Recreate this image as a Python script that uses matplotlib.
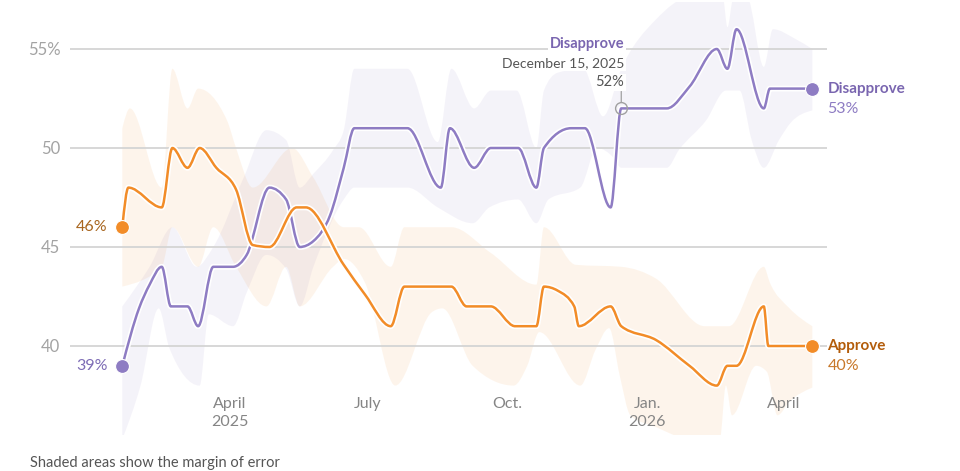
import numpy as np
import matplotlib
matplotlib.use("Agg")
import matplotlib.pyplot as plt
import matplotlib.dates as mdates
from matplotlib.path import Path
from matplotlib.patches import PathPatch
import matplotlib.patheffects as pe

plt.rcParams['font.family'] = ['Lato', 'DejaVu Sans']

# approval line
approve_dates = ["2025-01-20", "2025-01-24", "2025-02-15", "2025-02-22", "2025-03-04", "2025-03-12",
                 "2025-03-23", "2025-04-05", "2025-04-16", "2025-04-27", "2025-05-15", "2025-05-21",
                 "2025-06-15", "2025-06-29", "2025-07-16", "2025-07-25", "2025-08-25", "2025-09-04",
                 "2025-09-20", "2025-10-06", "2025-10-20", "2025-10-25", "2025-11-03", "2025-11-14",
                 "2025-11-17", "2025-12-08", "2025-12-15", "2026-01-07", "2026-01-29", "2026-02-16",
                 "2026-02-23", "2026-03-01", "2026-03-19", "2026-03-22", "2026-04-20"]
approve = [46, 48, 47, 50, 49, 50, 49, 47.9, 45.1, 45, 47, 47, 44.1, 42.6, 41, 43, 43, 42,
           42, 41, 41, 43, 42.8, 42, 41, 42, 41, 40.3, 39, 38, 39, 39, 42, 40, 40]

# disapproval line
disapprove_dates = ["2025-01-20", "2025-01-31", "2025-02-07", "2025-02-15", "2025-02-21", "2025-03-04",
                    "2025-03-11", "2025-03-21", "2025-04-03", "2025-04-12", "2025-04-27", "2025-05-08",
                    "2025-05-17", "2025-05-26", "2025-06-06", "2025-06-15", "2025-06-22", "2025-07-27",
                    "2025-08-18", "2025-08-24", "2025-09-09", "2025-09-20", "2025-10-08", "2025-10-20",
                    "2025-10-25", "2025-11-12", "2025-11-21", "2025-12-08", "2025-12-15", "2026-01-14",
                    "2026-01-29", "2026-02-16", "2026-02-23", "2026-03-01", "2026-03-19", "2026-03-23",
                    "2026-04-20"]
disapprove = [39, 41.9, 43.1, 44, 42, 42, 41, 44, 44, 44.6, 48, 47.4, 45, 45.3, 46.6, 49, 51, 51,
              48, 51, 49, 50, 50, 48, 50, 51, 51, 47, 52, 52, 53.1, 55, 54, 56, 52, 53, 53]

# margin of error, approve
appr_hi_dates = ["2025-01-20", "2025-01-25", "2025-02-15", "2025-02-22", "2025-03-04", "2025-03-11",
                 "2025-03-30", "2025-04-05", "2025-04-16", "2025-05-12", "2025-05-26", "2025-06-15",
                 "2025-06-25", "2025-07-16", "2025-07-25", "2025-08-25", "2025-09-20", "2025-10-20",
                 "2025-10-25", "2025-11-15", "2025-12-15", "2026-01-07", "2026-02-08", "2026-02-24",
                 "2026-03-19", "2026-03-23", "2026-04-05", "2026-04-20"]
appr_hi = [51, 52, 48, 54, 52, 53, 51.4, 50, 48, 50, 48.5, 46, 46, 44, 46, 46, 44.7, 43.1,
           46, 44.1, 44, 43.4, 41, 41, 44, 43.2, 41.9, 41]
appr_lo_dates = ["2025-01-20", "2025-02-15", "2025-02-22", "2025-03-11", "2025-03-21", "2025-04-05",
                 "2025-04-25", "2025-05-08", "2025-05-17", "2025-06-08", "2025-06-15", "2025-06-29",
                 "2025-07-19", "2025-08-12", "2025-08-19", "2025-09-08", "2025-10-05", "2025-10-14",
                 "2025-10-22", "2025-11-18", "2025-11-28", "2025-12-07", "2025-12-14", "2025-12-21",
                 "2026-01-07", "2026-01-29", "2026-02-18", "2026-02-22", "2026-02-26", "2026-03-14",
                 "2026-03-21", "2026-03-28", "2026-04-05", "2026-04-20"]
appr_lo = [43, 44, 46, 44, 46, 44, 42, 44, 42, 44, 44.4, 43.2, 38, 41.7, 41.9, 39, 38, 39,
           40.7, 38, 39.8, 40.9, 38.5, 36.5, 35.9, 35.3, 35.3, 38, 36.5, 39, 38.7, 36.5, 37.2, 37.9]

# margin of error, disapprove
dis_hi_dates = ["2025-01-20", "2025-02-07", "2025-02-22", "2025-03-10", "2025-03-21", "2025-04-10",
                "2025-04-25", "2025-05-08", "2025-05-17", "2025-05-26", "2025-06-08", "2025-06-15",
                "2025-06-22", "2025-07-27", "2025-08-16", "2025-08-25", "2025-09-09", "2025-09-20",
                "2025-10-07", "2025-10-20", "2025-10-25", "2025-11-03", "2025-11-20", "2025-12-03",
                "2025-12-15", "2026-01-07", "2026-01-29", "2026-02-20", "2026-02-23", "2026-02-27",
                "2026-03-08", "2026-03-19", "2026-03-25", "2026-04-09", "2026-04-20"]
dis_hi = [42, 44, 46, 44, 45, 48.5, 50.9, 50.4, 48, 48.7, 49.9, 50.9, 54, 54, 50.3, 54, 52,
          52.9, 52.9, 50, 52.9, 53.8, 54, 51.6, 54, 56.5, 57.6, 57.6, 56.1, 57.6, 57.6, 54.1,
          56, 55.5, 55]
dis_lo_dates = ["2025-01-20", "2025-02-01", "2025-02-13", "2025-02-20", "2025-03-12", "2025-03-18",
                "2025-04-03", "2025-04-12", "2025-04-25", "2025-05-08", "2025-05-17", "2025-05-26",
                "2025-06-15", "2025-06-22", "2025-07-27", "2025-08-16", "2025-09-08", "2025-09-19",
                "2025-10-08", "2025-10-20", "2025-10-28", "2025-11-18", "2025-11-29", "2025-12-10",
                "2025-12-15", "2026-01-14", "2026-01-22", "2026-02-09", "2026-02-22", "2026-03-03",
                "2026-03-11", "2026-03-19", "2026-03-29", "2026-04-06", "2026-04-20"]
dis_lo = [35.3, 38, 41.9, 39.9, 38, 41.6, 41, 42.7, 44.6, 43.9, 42, 44, 47.4, 48, 48, 47, 46.2,
          47, 47.4, 46.2, 47.4, 48, 50, 49.5, 49, 49, 49.9, 51.4, 52.9, 52.9, 50.4, 49, 50.4,
          51.3, 51.9]

month_ticks = ["2025-04-01", "2025-07-01", "2025-10-01", "2026-01-01", "2026-04-01"]
month_labels = ["April\n2025", "July", "Oct.", "Jan.\n2026", "April"]
y_ticks = [40, 45, 50, 55]
y_labels = ["40", "45", "50", "55%"]
note_date = "2025-12-15"
note_value = 52

ORANGE = "#f28c28"
PURPLE = "#8e7cc3"
PX = 0.72  # pixels -> points at dpi 100


def dnum(dates):
    return mdates.date2num(np.array(dates, dtype="datetime64[D]"))


def monotone(xs, ys):
    # monotone cubic (like d3.curveMonotoneX) as bezier vertices
    xs = np.asarray(xs, float)
    ys = np.asarray(ys, float)
    h = np.diff(xs)
    s = np.diff(ys) / h
    n = len(xs)
    t = np.zeros(n)
    for i in range(1, n - 1):
        p = (s[i - 1] * h[i] + s[i] * h[i - 1]) / (h[i - 1] + h[i])
        t[i] = (np.sign(s[i - 1]) + np.sign(s[i])) * min(abs(s[i - 1]), abs(s[i]), 0.5 * abs(p))
    t[0] = (3 * s[0] - t[1]) / 2
    t[-1] = (3 * s[-1] - t[-2]) / 2
    verts = [(xs[0], ys[0])]
    for i in range(n - 1):
        dx = h[i] / 3
        verts += [(xs[i] + dx, ys[i] + dx * t[i]),
                  (xs[i + 1] - dx, ys[i + 1] - dx * t[i + 1]),
                  (xs[i + 1], ys[i + 1])]
    return verts


def line_path(dates, vals):
    v = monotone(dnum(dates), vals)
    return Path(v, [Path.MOVETO] + [Path.CURVE4] * (len(v) - 1))


def band_path(hd, hv, ld, lv):
    up = monotone(dnum(hd), hv)
    lo = monotone(dnum(ld), lv)[::-1]
    verts = up + lo + [up[0]]
    codes = ([Path.MOVETO] + [Path.CURVE4] * (len(up) - 1) + [Path.LINETO]
             + [Path.CURVE4] * (len(lo) - 1) + [Path.CLOSEPOLY])
    return Path(verts, codes)


fig = plt.figure(figsize=(9.6, 4.71), dpi=100)
ax = fig.add_axes([70 / 960, 36 / 471, 757 / 960, 433 / 471])
apr1 = mdates.date2num(np.datetime64("2025-04-01"))
ax.set_xlim(apr1 - 160 / 1.5165, apr1 + 597 / 1.5165)
ax.set_ylim(40 - 89 / 19.8, 40 + 344 / 19.8)
ax.set_frame_on(False)

ax.add_patch(PathPatch(band_path(dis_hi_dates, dis_hi, dis_lo_dates, dis_lo),
                       facecolor=PURPLE, alpha=0.09, edgecolor="none", zorder=1))
ax.add_patch(PathPatch(band_path(appr_hi_dates, appr_hi, appr_lo_dates, appr_lo),
                       facecolor=ORANGE, alpha=0.09, edgecolor="none", zorder=1))

for v in y_ticks:
    ax.axhline(v, color="#d4d4d4", lw=1.3, zorder=2)

halo = [pe.Stroke(linewidth=4.2, foreground="white"), pe.Normal()]
ax.add_patch(PathPatch(line_path(disapprove_dates, disapprove), fill=False, edgecolor=PURPLE,
                       lw=1.8, capstyle="round", joinstyle="round", path_effects=halo, zorder=3))
ax.add_patch(PathPatch(line_path(approve_dates, approve), fill=False, edgecolor=ORANGE,
                       lw=1.8, capstyle="round", joinstyle="round", path_effects=halo, zorder=4))

ends_a = dnum([approve_dates[0], approve_dates[-1]])
ends_d = dnum([disapprove_dates[0], disapprove_dates[-1]])
ax.plot(ends_a, [approve[0], approve[-1]], "o", color=ORANGE, ms=10, mec="white", mew=0.8, zorder=5)
ax.plot(ends_d, [disapprove[0], disapprove[-1]], "o", color=PURPLE, ms=10, mec="white", mew=0.8, zorder=5)

# start labels
ax.annotate(f"{approve[0]:.0f}%", (ends_a[0], approve[0]), xytext=(-15 * PX, 0), textcoords="offset points",
            ha="right", va="center", fontsize=11.5, color="#a8661f", zorder=6)
ax.annotate(f"{disapprove[0]:.0f}%", (ends_d[0], disapprove[0]), xytext=(-15 * PX, 0),
            textcoords="offset points", ha="right", va="center", fontsize=11.5, color="#7d6cb5", zorder=6)

# end labels
ax.annotate("Disapprove", (ends_d[1], disapprove[-1]), xytext=(15 * PX, 0), textcoords="offset points",
            ha="left", va="center", fontsize=11, fontweight="bold", color="#7a66b0", annotation_clip=False)
ax.annotate(f"{disapprove[-1]:.0f}%", (ends_d[1], disapprove[-1]), xytext=(15 * PX, -20 * PX),
            textcoords="offset points", ha="left", va="center", fontsize=11.5, color="#8e7cc3",
            annotation_clip=False)
ax.annotate("Approve", (ends_a[1], approve[-1]), xytext=(15 * PX, 0), textcoords="offset points",
            ha="left", va="center", fontsize=11, fontweight="bold", color="#b35c0a", annotation_clip=False)
ax.annotate(f"{approve[-1]:.0f}%", (ends_a[1], approve[-1]), xytext=(15 * PX, -20 * PX),
            textcoords="offset points", ha="left", va="center", fontsize=11.5, color="#c8782a",
            annotation_clip=False)

# callout
nx = dnum([note_date])[0]
ax.plot([nx], [note_value], "o", ms=8.5, mfc="none", mec="#a0a0a0", mew=1.0, zorder=6)
ax.annotate("", (nx, note_value), xytext=(0, 17 * PX), textcoords="offset points",
            arrowprops=dict(arrowstyle="-", color="#a0a0a0", lw=0.9, shrinkA=0, shrinkB=4.5), zorder=6)
box = dict(facecolor="white", edgecolor="none", pad=1.0)
ax.annotate("Disapprove", (nx, note_value), xytext=(3 * PX, 64 * PX), textcoords="offset points",
            ha="right", va="center", fontsize=10.5, fontweight="bold", color="#7a66b0", bbox=box, zorder=7)
ax.annotate("December 15, 2025", (nx, note_value), xytext=(3 * PX, 45 * PX), textcoords="offset points",
            ha="right", va="center", fontsize=10, color="#555555", bbox=box, zorder=7)
ax.annotate(f"{note_value}%", (nx, note_value), xytext=(3 * PX, 26 * PX), textcoords="offset points",
            ha="right", va="center", fontsize=10.5, color="#555555", bbox=box, zorder=7)

# axis labels
ax.set_yticks(y_ticks)
ax.set_yticklabels(y_labels)
ax.tick_params(axis="y", length=0, pad=7, labelsize=12, labelcolor="#a3a3a3")
ax.set_xticks([])
for d, lab in zip(dnum(month_ticks), month_labels):
    ax.annotate(lab, (d, 40), xytext=(0, -51 * PX), textcoords="offset points", ha="center", va="top",
                fontsize=11.5, color="#858585", linespacing=1.4, zorder=6)

fig.text(30 / 960, 1 - 456 / 471, "Shaded areas show the margin of error", ha="left", va="top",
         fontsize=10.5, color="#555555")

fig.savefig("out.png", dpi=100)
